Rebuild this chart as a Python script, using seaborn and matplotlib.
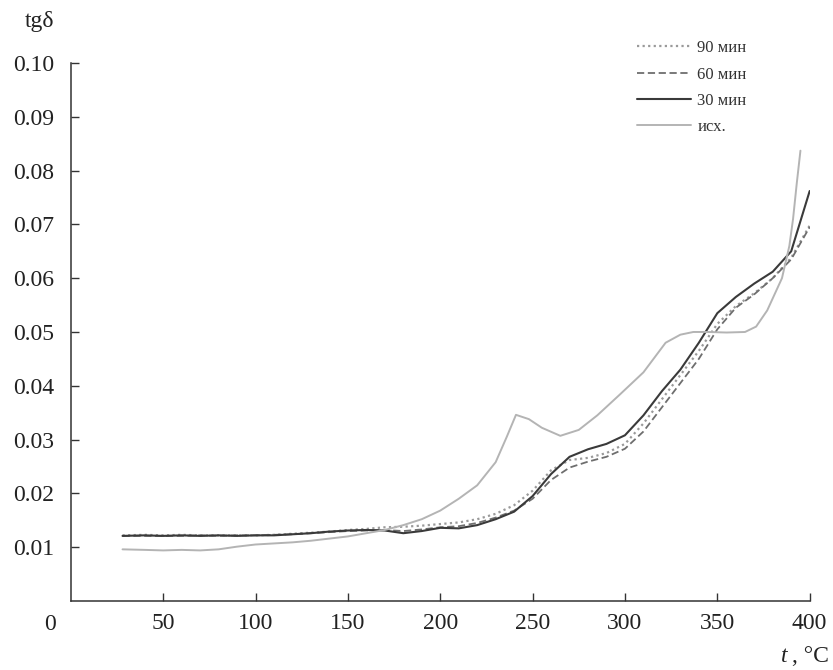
import numpy as np
import pandas as pd
import seaborn as sns
import matplotlib.pyplot as plt

# temperature grid, deg C
temp = [28, 40, 50, 60, 70, 80, 90, 100, 110, 120, 130, 140, 150, 160, 170, 180, 190,
        200, 210, 220, 230, 240, 250, 260, 270, 280, 290, 300, 310, 320, 330, 340,
        350, 360, 370, 380, 390, 400]

tg_30 = [0.0121, 0.0122, 0.0121, 0.0122, 0.0121, 0.0122, 0.0121, 0.0122, 0.0122, 0.0124,
         0.0126, 0.0129, 0.0131, 0.0132, 0.0131, 0.0126, 0.0130, 0.0136, 0.0135, 0.0141,
         0.0152, 0.0166, 0.0195, 0.0236, 0.0268, 0.0282, 0.0292, 0.0308, 0.0345, 0.0390,
         0.0430, 0.0480, 0.0535, 0.0565, 0.0590, 0.0612, 0.0650, 0.0762]

tg_60 = [0.0121, 0.0121, 0.0121, 0.0121, 0.0122, 0.0121, 0.0122, 0.0122, 0.0123, 0.0124,
         0.0126, 0.0128, 0.0130, 0.0131, 0.0132, 0.0130, 0.0133, 0.0137, 0.0139, 0.0145,
         0.0155, 0.0168, 0.0190, 0.0225, 0.0248, 0.0259, 0.0268, 0.0283, 0.0315, 0.0360,
         0.0405, 0.0450, 0.0505, 0.0545, 0.0570, 0.0600, 0.0635, 0.0695]

tg_90 = [0.0122, 0.0123, 0.0122, 0.0123, 0.0122, 0.0122, 0.0122, 0.0122, 0.0123, 0.0125,
         0.0127, 0.0129, 0.0132, 0.0134, 0.0137, 0.0138, 0.0140, 0.0143, 0.0146, 0.0152,
         0.0162, 0.0178, 0.0205, 0.0243, 0.0262, 0.0266, 0.0275, 0.0292, 0.0330, 0.0375,
         0.0420, 0.0465, 0.0515, 0.0548, 0.0572, 0.0600, 0.0638, 0.0698]

temp_src = [28, 40, 50, 60, 70, 80, 90, 100, 110, 120, 130, 140, 150, 160, 170, 180, 190,
            200, 210, 220, 230, 236, 241, 248, 255, 265, 275, 285, 297, 310, 322, 330,
            337, 345, 355, 365, 371, 377, 381, 385, 389, 391, 393, 395]
tg_src = [0.0096, 0.0095, 0.0094, 0.0095, 0.0094, 0.0096, 0.0101, 0.0105, 0.0107, 0.0109,
          0.0112, 0.0116, 0.0120, 0.0126, 0.0132, 0.0141, 0.0152, 0.0168, 0.0190, 0.0215,
          0.0258, 0.0305, 0.0346, 0.0338, 0.0322, 0.0307, 0.0318, 0.0345, 0.0383, 0.0425,
          0.0480, 0.0495, 0.0500, 0.0500, 0.0499, 0.0500, 0.0510, 0.0540, 0.0570, 0.0600,
          0.0660, 0.0710, 0.0776, 0.0837]

labels = ['90 мин', '60 мин', '30 мин', 'исх.']

sns.set_style('ticks')
plt.rcParams['font.family'] = ['Liberation Serif', 'DejaVu Serif']

fig = plt.figure(figsize=(8.33, 6.7), dpi=100)
ax = fig.add_axes([0.085, 0.103, 0.887, 0.803])

sns.lineplot(x=temp, y=tg_90, ax=ax, color='#9a9a9a', lw=1.6, label=labels[0],
             linestyle=(0, (1, 1.5)))
sns.lineplot(x=temp, y=tg_60, ax=ax, color='#6e6e6e', lw=1.3, label=labels[1],
             linestyle=(0, (4, 2)))
sns.lineplot(x=temp, y=tg_30, ax=ax, color='#3a3a3a', lw=1.5, label=labels[2])
sns.lineplot(x=temp_src, y=tg_src, ax=ax, color='#b4b4b4', lw=1.4, label=labels[3])

ax.set_xlim(0, 400)
ax.set_ylim(0, 0.10)
ax.set_xticks([50, 100, 150, 200, 250, 300, 350, 400])
ax.set_yticks(np.round(np.arange(0.01, 0.1001, 0.01), 2))
ax.set_yticklabels([f'{v:.2f}' for v in ax.get_yticks()])
ax.tick_params(direction='in', length=6, width=1, colors='#333333', labelsize=17,
               labelcolor='#222222')
ax.tick_params(axis='y', pad=12)
ax.tick_params(axis='x', pad=9)
for s in ['top', 'right']:
    ax.spines[s].set_visible(False)
for s in ['left', 'bottom']:
    ax.spines[s].set_color('#333333')
    ax.spines[s].set_linewidth(1.1)

ax.set_xlabel('')
ax.set_ylabel('')
fig.text(50 / 833, 1 - 624 / 670, '0', ha='center', va='center', fontsize=17,
         color='#222222')
fig.text(40 / 833, 1 - 22 / 670, 'tgδ', ha='center', va='center', fontsize=17,
         color='#222222')
fig.text(0.995, 1 - 656 / 670, ', °C', ha='right', va='center', fontsize=17,
         color='#222222')
fig.text(0.946, 1 - 656 / 670, 't', ha='right', va='center', fontsize=17,
         style='italic', color='#222222')

leg = ax.legend(loc='upper right', bbox_to_anchor=(0.935, 1.07), frameon=False,
                fontsize=12, handlelength=3.2, handletextpad=0.4, labelspacing=0.62)
for t in leg.get_texts():
    t.set_color('#333333')

fig.savefig('out.png', dpi=100)
